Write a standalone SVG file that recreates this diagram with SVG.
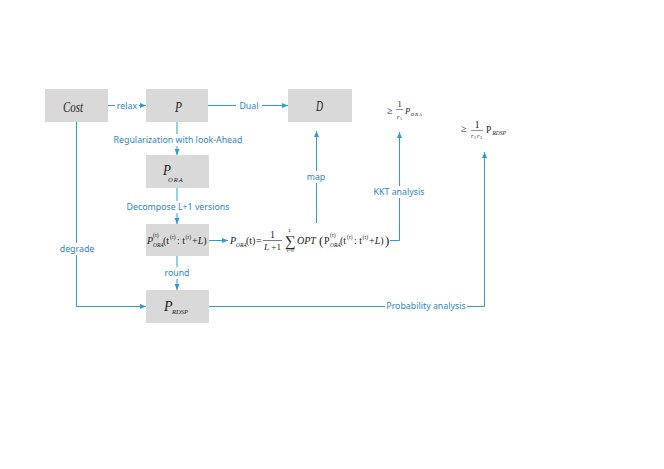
<svg xmlns="http://www.w3.org/2000/svg" width="664" height="469" viewBox="0 0 664 469">
<defs>
<style>
.box{fill:#D9D9D9;stroke:none}
.ln{fill:none;stroke:#2E9BD6;stroke-width:1}
.lb{font-family:"Segoe UI","Noto Sans","Open Sans",sans-serif;font-size:8.8px;fill:#2B86C5;text-anchor:middle}
.m{font-family:"Liberation Serif","Times New Roman",serif;fill:#222}
.i{font-style:italic}
.bg{fill:#fff}
</style>
<marker id="ar" viewBox="0 0 6 6" refX="6" refY="3" markerWidth="6" markerHeight="6" orient="auto" markerUnits="userSpaceOnUse">
<path d="M0,0.5 L6,3 L0,5.5 z" fill="#2E9BD6"/>
</marker>
</defs>
<rect width="664" height="469" fill="#fff"/>

<g id="connectors">
<path class="ln" d="M108,105.5 H146" marker-end="url(#ar)"/>
<rect class="bg" x="115" y="99" width="24" height="12"/>
<text class="lb" x="127" y="108.5">relax</text>

<path class="ln" d="M208,105.5 H288" marker-end="url(#ar)"/>
<rect class="bg" x="236" y="99" width="26" height="12"/>
<text class="lb" x="249" y="108.5">Dual</text>

<path class="ln" d="M177,122 V155" marker-end="url(#ar)"/>
<rect class="bg" x="110" y="134" width="136" height="12"/>
<text class="lb" x="178" y="143">Regularization with look-Ahead</text>

<path class="ln" d="M177,188 V224" marker-end="url(#ar)"/>
<rect class="bg" x="123" y="201" width="110" height="12"/>
<text class="lb" x="178" y="210">Decompose L+1 versions</text>

<path class="ln" d="M177,256 V290" marker-end="url(#ar)"/>
<rect class="bg" x="162" y="267" width="30" height="12"/>
<text class="lb" x="177" y="276">round</text>

<path class="ln" d="M76.5,122 V306.5 H146" marker-end="url(#ar)"/>
<rect class="bg" x="57" y="243" width="40" height="12"/>
<text class="lb" x="77" y="252">degrade</text>

<path class="ln" d="M209,240.5 H228" marker-end="url(#ar)"/>

<path class="ln" d="M316.5,223 V131" marker-end="url(#ar)"/>
<rect class="bg" x="301" y="171" width="31" height="12"/>
<text class="lb" x="316" y="180">map</text>

<path class="ln" d="M390,240.5 H399.5 V132" marker-end="url(#ar)"/>
<rect class="bg" x="371" y="186" width="57" height="12"/>
<text class="lb" x="399" y="195">KKT analysis</text>

<path class="ln" d="M209,306.5 H484.5 V152" marker-end="url(#ar)"/>
<rect class="bg" x="385" y="300" width="82" height="12"/>
<text class="lb" x="426" y="309">Probability analysis</text>
</g>

<g id="cost">
<rect class="box" x="45" y="89" width="63" height="33"/>
<text class="m i" x="63" y="112" font-size="15" textLength="20" lengthAdjust="spacingAndGlyphs">Cost</text>
</g>

<g id="p">
<rect class="box" x="146" y="89" width="62" height="33"/>
<text class="m i" x="175" y="112" font-size="15" textLength="7" lengthAdjust="spacingAndGlyphs">P</text>
</g>

<g id="d">
<rect class="box" x="288" y="89" width="64" height="33"/>
<text class="m i" x="316" y="111" font-size="15" textLength="7" lengthAdjust="spacingAndGlyphs">D</text>
</g>

<g id="pora">
<rect class="box" x="146" y="155" width="63" height="33"/>
<text class="m i" x="163" y="175" font-size="15" textLength="8" lengthAdjust="spacingAndGlyphs">P</text>
<text class="m i" x="168" y="182" font-size="6.5" letter-spacing="1">ORA</text>
</g>

<g id="pora-tau">
<rect class="box" x="146" y="224" width="63" height="32"/>
<text class="m i" x="147" y="244" font-size="10">P</text>
<text class="m i" x="153" y="247" font-size="5.5">ORA</text>
<text class="m" x="153" y="237" font-size="5.5">(<tspan class="i">τ</tspan>)</text>
<text class="m" x="163" y="244" font-size="10">(t</text>
<text class="m" x="170" y="239" font-size="5.5">(<tspan class="i">τ</tspan>)</text>
<text class="m" x="177" y="244" font-size="10">: t</text>
<text class="m" x="185.5" y="239" font-size="5.5">(<tspan class="i">τ</tspan>)</text>
<text class="m" x="192" y="244" font-size="10">+<tspan class="i">L</tspan>)</text>
</g>

<g id="prdsp">
<rect class="box" x="146" y="290" width="63" height="33"/>
<text class="m i" x="164" y="311" font-size="14">P</text>
<text class="m i" x="172" y="314" font-size="6.5">RDSP</text>
</g>

<g id="formula">
<text class="m i" x="230" y="244" font-size="10">P</text>
<text class="m i" x="236" y="247" font-size="5.5">ORA</text>
<text class="m" x="246" y="244" font-size="10">(t)</text>
<text class="m" x="256" y="244" font-size="10">=</text>
<text class="m" x="272.5" y="237.5" font-size="10" text-anchor="middle">1</text>
<line x1="263" y1="240.5" x2="282" y2="240.5" stroke="#222" stroke-width="0.6"/>
<text class="m" x="272.5" y="249.5" font-size="9" text-anchor="middle"><tspan class="i">L</tspan> +1</text>
<text class="m" x="290" y="246" font-size="15" text-anchor="middle">∑</text>
<text class="m i" x="290" y="232" font-size="5" text-anchor="middle">L</text>
<text class="m" x="290" y="252" font-size="5" text-anchor="middle"><tspan class="i">τ</tspan>=0</text>
<text class="m i" x="297" y="244" font-size="10">OPT</text>
<text class="m" x="319" y="245" font-size="13">(</text>
<text class="m" x="324" y="244" font-size="10">P</text>
<text class="m i" x="330" y="247" font-size="5.5">ORA</text>
<text class="m" x="330" y="237" font-size="5.5">(<tspan class="i">τ</tspan>)</text>
<text class="m" x="340" y="244" font-size="10">(t</text>
<text class="m" x="347" y="239" font-size="5.5">(<tspan class="i">τ</tspan>)</text>
<text class="m" x="354" y="244" font-size="10">: t</text>
<text class="m" x="362.5" y="239" font-size="5.5">(<tspan class="i">τ</tspan>)</text>
<text class="m" x="369" y="244" font-size="10">+<tspan class="i">L</tspan>)</text>
<text class="m" x="385" y="245" font-size="13">)</text>
</g>

<g id="bound-ora">
<text class="m" x="387" y="114" font-size="10">≥</text>
<text class="m" x="399.5" y="107" font-size="8.5" text-anchor="middle">1</text>
<line x1="396" y1="109.5" x2="403" y2="109.5" stroke="#222" stroke-width="0.5"/>
<text class="m i" x="397" y="119" font-size="6.5">r</text>
<text class="m" x="400" y="120" font-size="4">1</text>
<text class="m i" x="405" y="114" font-size="8.5">P</text>
<text class="m i" x="410.5" y="116" font-size="5" letter-spacing="0.8">ORA</text>
</g>

<g id="bound-rdsp">
<text class="m" x="461" y="132" font-size="10">≥</text>
<text class="m" x="477" y="128" font-size="9.5" text-anchor="middle">1</text>
<line x1="471" y1="130.5" x2="483" y2="130.5" stroke="#222" stroke-width="0.5"/>
<text class="m i" x="471" y="138" font-size="6.5">r</text>
<text class="m" x="474" y="139" font-size="4">1</text>
<text class="m i" x="477" y="138" font-size="6.5">r</text>
<text class="m" x="480" y="139" font-size="4">2</text>
<text class="m" x="486" y="133" font-size="9.5">P</text>
<text class="m i" x="492.5" y="135" font-size="5.5">RDSP</text>
</g>
</svg>
